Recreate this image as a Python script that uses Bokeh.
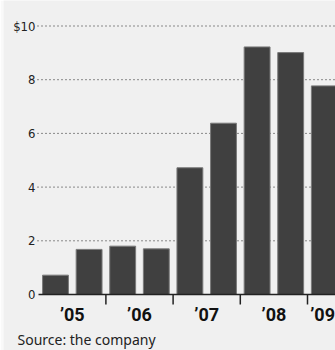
from bokeh.plotting import figure
from bokeh.models import Range1d, ColumnDataSource
from bokeh.embed import file_html
from bokeh.resources import INLINE

# Half-year periods (H1 '05 ... H1 '09)
periods = ["H1 05", "H2 05", "H1 06", "H2 06", "H1 07", "H2 07", "H1 08", "H2 08", "H1 09"]
values = [0.72, 1.68, 1.80, 1.70, 4.72, 6.38, 9.22, 9.01, 7.77]
year_labels = ["\u201905", "\u201906", "\u201907", "\u201908", "\u201909"]
year_label_pos = [0.5, 2.5, 4.5, 6.5, 7.95]
year_boundaries = [1.5, 3.5, 5.5, 7.5]
y_ticks = [0, 2, 4, 6, 8, 10]
y_tick_labels = ["0", "2", "4", "6", "8", "$10"]
source_note = "Source: the company"

BG = "#f0f0f0"
W, H = 335, 350
LEFT = 3        # light strip on the left edge
PX_X = 33.6     # pixels per bar slot
PX_Y = 26.85    # pixels per unit value
BAR0_X = 55     # page x of first bar centre
ZERO_Y = 294    # page y of the zero line

x0 = -(BAR0_X - LEFT) / PX_X
x1 = x0 + (W - LEFT) / PX_X
y1 = ZERO_Y / PX_Y
y0 = y1 - H / PX_Y

xs = list(range(len(periods)))
src = ColumnDataSource(dict(x=xs, top=values))

p = figure(width=W, height=H, output_backend="svg", toolbar_location=None,
           x_range=Range1d(x0, x1), y_range=Range1d(y0, y1),
           min_border=0, min_border_left=LEFT)
p.background_fill_color = BG
p.border_fill_color = "#f9f9f9"
p.outline_line_color = None
p.axis.visible = False
p.grid.visible = False

grid_left = -18 / PX_X
label_right = -20 / PX_X
axis_left = -17 / PX_X

# dotted gridlines
grid_vals = [t for t in y_ticks if t > 0]
p.segment(x0=[grid_left] * len(grid_vals), x1=[x1] * len(grid_vals),
          y0=grid_vals, y1=grid_vals, line_color="#222222",
          line_dash="1 3", line_width=1)

# bars
p.vbar(x="x", top="top", width=0.77, bottom=0, source=src,
       fill_color="#404040", line_color="#7a7a7a", line_width=1)

# zero line and year separator ticks
p.segment(x0=[axis_left], x1=[x1], y0=[0], y1=[0],
          line_color="#222222", line_width=1.5)
p.segment(x0=year_boundaries, x1=year_boundaries,
          y0=[0] * len(year_boundaries), y1=[-10 / PX_Y] * len(year_boundaries),
          line_color="#222222", line_width=1.5)

# y labels
p.text(x=[label_right] * len(y_ticks), y=y_ticks, text=y_tick_labels,
       text_align="right", text_baseline="middle",
       text_font={"value": "DejaVu Sans Condensed"}, text_font_size="13px",
       text_color="#222222")

# year labels
p.text(x=year_label_pos, y=[-19.5 / PX_Y] * len(year_label_pos), text=year_labels,
       text_align="center", text_baseline="middle",
       text_font={"value": "Roboto"}, text_font_size="18px",
       text_font_style="bold", text_color="#111111")

# source note
p.text(x=[-38 / PX_X], y=[-45 / PX_Y], text=[source_note],
       text_align="left", text_baseline="alphabetic",
       text_font={"value": "Noto Sans"}, text_font_size="14px",
       text_color="#222222")

html = file_html(p, INLINE)
open("out.html", "w").write(html)
